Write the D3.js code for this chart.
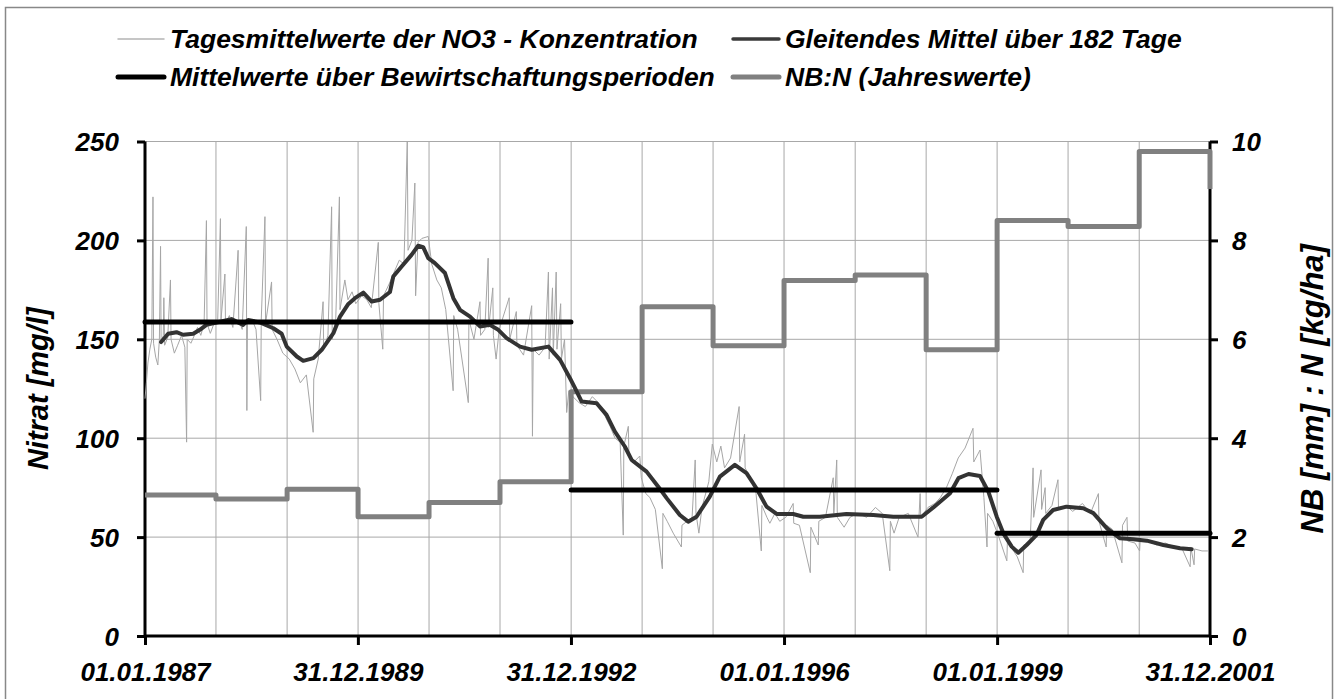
<!DOCTYPE html>
<html>
<head>
<meta charset="utf-8">
<script src="https://cdn.jsdelivr.net/npm/d3@7"></script>
<style>
  body { margin: 0; background: #fff; }
  text { font-family: "Liberation Sans", Arial, sans-serif; font-weight: bold; font-style: italic; fill: #000; }
</style>
</head>
<body>
<div id="chart"></div>
<script>
// ---- data ----
const xTickDates = ["1987-01-01", "1989-12-31", "1992-12-31", "1996-01-01", "1999-01-01", "2001-12-31"];
const xTickLabels = ["01.01.1987", "31.12.1989", "31.12.1992", "01.01.1996", "01.01.1999", "31.12.2001"];
const leftTicks = [0, 50, 100, 150, 200, 250];
const rightTicks = [0, 2, 4, 6, 8, 10];

// Tagesmittelwerte der NO3-Konzentration (mg/l)
const daily = [
  ["1987-01-01",120],["1987-01-08",128],["1987-01-16",138],["1987-01-26",145],["1987-02-05",150],["1987-02-11",222],
  ["1987-02-14",148],["1987-02-25",141],["1987-03-08",137],["1987-03-16",150],["1987-03-22",197],["1987-03-25",148],
  ["1987-04-05",152],["1987-04-08",171],["1987-04-12",147],["1987-04-28",151],["1987-05-12",180],["1987-05-15",150],
  ["1987-06-01",143],["1987-06-18",147],["1987-07-08",152],["1987-07-25",146],["1987-08-03",98],["1987-08-06",150],
  ["1987-08-25",148],["1987-09-12",152],["1987-09-28",156],["1987-10-15",152],["1987-11-01",158],["1987-11-13",210],
  ["1987-11-16",158],["1987-12-03",153],["1987-12-22",158],
  ["1988-01-10",160],["1988-01-24",211],["1988-01-27",160],["1988-02-16",183],["1988-02-19",158],["1988-03-10",162],
  ["1988-03-28",156],["1988-04-24",195],["1988-04-27",160],["1988-05-15",155],["1988-06-05",207],["1988-06-08",114],
  ["1988-06-11",158],["1988-07-05",160],["1988-07-25",155],["1988-08-18",119],["1988-08-21",160],["1988-09-09",212],
  ["1988-09-12",158],["1988-10-13",179],["1988-10-16",155],["1988-11-10",150],["1988-12-10",143],
  ["1989-01-12",140],["1989-02-10",135],["1989-03-10",128],["1989-04-10",132],["1989-05-15",103],["1989-05-18",130],
  ["1989-06-10",140],["1989-07-05",169],["1989-07-08",145],["1989-07-30",152],["1989-08-18",217],["1989-08-21",150],
  ["1989-09-08",160],["1989-09-27",222],["1989-09-30",165],["1989-10-25",180],["1989-11-10",170],["1989-12-01",174],
  ["1989-12-20",168],
  ["1990-01-20",172],["1990-02-15",170],["1990-03-10",166],["1990-04-15",199],["1990-04-18",168],["1990-05-08",145],
  ["1990-05-12",172],["1990-06-10",178],["1990-07-10",185],["1990-08-01",190],["1990-08-25",188],["1990-09-11",250],
  ["1990-09-15",195],["1990-10-05",200],["1990-10-20",229],["1990-10-24",172],["1990-11-05",199],["1990-11-25",201],
  ["1990-12-28",202],
  ["1991-01-15",188],["1991-02-10",180],["1991-03-05",176],["1991-03-28",165],["1991-05-05",124],["1991-05-08",162],
  ["1991-05-28",155],["1991-07-22",118],["1991-07-25",160],["1991-08-20",150],["1991-09-20",169],["1991-09-23",152],
  ["1991-10-15",155],["1991-11-01",191],["1991-11-04",156],["1991-11-25",176],["1991-11-28",152],["1991-12-12",140],
  ["1991-12-28",155],
  ["1992-02-17",171],["1992-02-20",150],["1992-03-25",164],["1992-03-28",147],["1992-05-01",142],["1992-06-12",167],
  ["1992-06-16",101],["1992-06-20",145],["1992-07-20",142],["1992-08-20",146],["1992-09-06",184],["1992-09-10",140],
  ["1992-09-27",176],["1992-10-01",142],["1992-10-16",184],["1992-10-20",145],["1992-11-08",168],["1992-11-12",140],
  ["1992-11-28",150],["1992-12-09",113],["1992-12-20",124],
  ["1993-01-10",121],["1993-02-10",118],["1993-03-15",116],["1993-04-20",121],["1993-05-20",118],["1993-06-20",112],
  ["1993-07-20",106],["1993-08-15",100],["1993-09-10",98],["1993-09-26",51],["1993-09-29",96],["1993-10-22",106],
  ["1993-10-25",92],["1993-11-20",88],["1993-12-20",91],["1993-12-28",80],
  ["1994-01-20",72],["1994-02-10",70],["1994-03-10",64],["1994-04-15",34],["1994-04-18",62],["1994-05-10",58],
  ["1994-06-10",52],["1994-07-22",45],["1994-07-25",56],["1994-08-20",58],["1994-09-15",60],["1994-10-01",89],
  ["1994-10-05",62],["1994-10-20",52],["1994-11-05",65],["1994-12-10",78],["1994-12-28",97],
  ["1995-01-20",88],["1995-02-10",96],["1995-03-01",85],["1995-04-01",90],["1995-05-15",116],["1995-05-18",88],
  ["1995-06-12",102],["1995-06-15",85],["1995-07-10",80],["1995-08-10",72],["1995-09-06",43],["1995-09-09",66],
  ["1995-10-05",60],["1995-10-20",57],["1995-11-15",62],["1995-12-10",58],
  ["1996-01-10",60],["1996-02-17",67],["1996-02-20",57],["1996-03-20",56],["1996-05-15",32],["1996-05-18",55],
  ["1996-06-25",46],["1996-06-28",58],["1996-08-01",60],["1996-09-10",80],["1996-09-13",62],["1996-09-28",89],
  ["1996-10-01",60],["1996-11-05",55],["1996-12-05",60],
  ["1997-01-15",62],["1997-03-01",60],["1997-04-15",65],["1997-05-20",62],["1997-06-28",33],["1997-07-01",58],
  ["1997-07-20",52],["1997-08-15",60],["1997-10-01",62],["1997-11-20",50],["1997-12-01",72],["1997-12-04",60],
  ["1998-01-10",65],["1998-02-15",67],["1998-03-15",70],["1998-04-15",75],["1998-05-15",82],["1998-06-15",90],
  ["1998-07-20",95],["1998-08-30",105],["1998-09-03",88],["1998-10-05",94],["1998-10-25",70],["1998-11-10",45],
  ["1998-11-13",62],["1998-12-10",58],
  ["1999-01-10",50],["1999-02-20",38],["1999-02-23",48],["1999-03-20",44],["1999-04-15",40],["1999-05-15",32],
  ["1999-05-18",46],["1999-06-20",48],["1999-07-05",85],["1999-07-08",60],["1999-08-15",84],["1999-08-18",64],
  ["1999-09-05",75],["1999-09-08",62],["1999-10-10",66],["1999-11-10",79],["1999-11-13",64],["1999-12-20",66],
  ["2000-01-25",63],["2000-03-15",67],["2000-04-25",62],["2000-06-05",72],["2000-06-08",58],["2000-07-15",45],
  ["2000-07-18",56],["2000-08-15",54],["2000-10-04",37],["2000-10-07",56],["2000-10-30",60],["2000-11-03",48],
  ["2000-12-10",47],
  ["2001-01-03",43],["2001-01-06",49],["2001-02-15",48],["2001-04-01",46],["2001-05-15",47],["2001-07-01",45],
  ["2001-08-10",44],["2001-09-20",35],["2001-09-23",45],["2001-10-10",36],["2001-10-13",44],["2001-11-20",43],
  ["2001-12-20",43]
];

// Gleitendes Mittel ueber 182 Tage (mg/l)
const movingAvg = [
  ["1987-03-25",148.6],["1987-04-30",152.8],["1987-06-12",153.6],["1987-07-16",152.3],["1987-09-06",152.8],
  ["1987-10-10",154.8],["1987-11-13",157.3],["1988-01-04",158.5],["1988-03-21",160.2],["1988-05-20",157.3],
  ["1988-06-15",159.8],["1988-08-14",158.5],["1988-10-22",155.6],["1988-12-04",152.8],["1988-12-30",146.3],
  ["1989-02-20",141.3],["1989-03-25",139.1],["1989-05-16",140.5],["1989-06-28",144.7],["1989-08-27",153.1],
  ["1989-09-30",161.5],["1989-11-12",167.9],["1989-12-16",170.8],["1990-01-28",173.6],["1990-03-12",169.1],
  ["1990-04-24",170.0],["1990-06-14",173.9],["1990-07-01",181.7],["1990-08-13",186.8],["1990-10-03",192.7],
  ["1990-11-06",197.3],["1990-12-02",196.6],["1990-12-28",191.0],["1991-01-31",188.5],["1991-03-24",183.5],
  ["1991-05-06",170.8],["1991-06-09",164.9],["1991-07-31",161.5],["1991-09-20",156.5],["1991-11-10",157.3],
  ["1991-12-23",154.8],["1992-02-04",150.6],["1992-04-13",146.3],["1992-06-12",144.7],["1992-09-06",146.3],
  ["1992-11-05",139.6],["1992-12-26",130.3],["1993-01-21",125.3],["1993-02-24",118.5],["1993-05-12",117.7],
  ["1993-07-02",111.8],["1993-08-14",103.3],["1993-10-04",95.8],["1993-11-08",89.0],["1994-01-24",83.1],
  ["1994-03-25",75.5],["1994-05-07",69.7],["1994-07-14",61.2],["1994-08-26",57.8],["1994-10-08",60.3],
  ["1994-12-15",70.5],["1995-02-05",80.6],["1995-04-23",86.5],["1995-06-22",82.3],["1995-08-12",74.7],
  ["1995-10-03",65.4],["1995-11-24",61.7],["1996-02-17",61.7],["1996-04-09",60.3],["1996-07-03",60.3],
  ["1996-11-17",61.7],["1997-04-04",61.2],["1997-07-16",60.3],["1997-12-09",60.3],["1998-02-07",65.0],
  ["1998-05-04",72.2],["1998-06-16",79.8],["1998-08-07",81.9],["1998-10-05",80.9],["1998-11-17",73.0],
  ["1998-12-30",60.3],["1999-02-02",51.9],["1999-03-17",45.2],["1999-04-20",42.1],["1999-06-02",46.0],
  ["1999-07-23",51.1],["1999-08-26",58.7],["1999-10-16",63.7],["1999-12-24",65.4],["2000-03-19",64.6],
  ["2000-05-10",62.1],["2000-07-18",54.5],["2000-09-24",49.4],["2000-12-01",48.9],["2001-02-09",48.2],
  ["2001-05-05",46.0],["2001-07-30",44.4],["2001-09-28",43.9]
];

// Mittelwerte ueber Bewirtschaftungsperioden
const periodStart = ["1987-01-01", "1993-01-01", "1999-01-01"];
const periodEnd = ["1992-12-31", "1998-12-31", "2001-12-31"];
const periodMean = [158.7, 73.8, 51.9];

// NB:N (Jahreswerte), last value closes the step at the right axis
const nbYears = ["1987-01-01","1988-01-01","1989-01-01","1990-01-01","1991-01-01","1992-01-01","1993-01-01","1994-01-01",
  "1995-01-01","1996-01-01","1997-01-01","1998-01-01","1999-01-01","2000-01-01","2001-01-01","2001-12-31"];
const nbValues = [2.85, 2.77, 2.97, 2.41, 2.70, 3.12, 4.94, 6.66, 5.87, 7.19, 7.30, 5.79, 8.40, 8.28, 9.80, 9.04];

const legendItems = [
  {name: "Tagesmittelwerte der NO3 - Konzentration", color: "#b4b4b4", w: 1.5, col: 0, row: 0},
  {name: "Gleitendes Mittel über 182 Tage", color: "#3a3a3a", w: 3.5, col: 1, row: 0},
  {name: "Mittelwerte über Bewirtschaftungsperioden", color: "#000", w: 5, col: 0, row: 1},
  {name: "NB:N (Jahreswerte)", color: "#808080", w: 5, col: 1, row: 1}
];

// ---- layout ----
const W = 1338, H = 699;
const margin = {top: 141.5, right: 128, bottom: 63, left: 145};
const width = W - margin.left - margin.right;
const height = H - margin.top - margin.bottom;
const parseDate = d3.timeParse("%Y-%m-%d");

const svg = d3.select("#chart").append("svg").attr("width", W).attr("height", H);

// chart frame
svg.append("rect").attr("x", 5.5).attr("y", 7.5).attr("width", 1327).attr("height", 700)
  .attr("fill", "#fff").attr("stroke", "#888").attr("stroke-width", 1.5);

const g = svg.append("g").attr("transform", `translate(${margin.left},${margin.top})`);

const x = d3.scaleTime().domain([parseDate("1987-01-01"), parseDate("2001-12-31")]).range([0, width]);
const yL = d3.scaleLinear().domain([0, 250]).range([height, 0]);
const yR = d3.scaleLinear().domain([0, 10]).range([height, 0]);

// gridlines
g.append("g").selectAll("line").data(d3.timeYear.range(parseDate("1988-01-01"), parseDate("2001-06-01")))
  .join("line")
  .attr("x1", (d) => x(d)).attr("x2", (d) => x(d)).attr("y1", 0).attr("y2", height)
  .attr("stroke", "#a8a8a8").attr("stroke-width", 1);
g.append("g").selectAll("line").data(leftTicks.slice(1))
  .join("line")
  .attr("x1", 0).attr("x2", width).attr("y1", (d) => yL(d)).attr("y2", (d) => yL(d))
  .attr("stroke", "#a8a8a8").attr("stroke-width", 1);

// axes
const axisLeft = g.append("g").call(d3.axisLeft(yL).tickValues(leftTicks).tickSize(8).tickPadding(18));
const axisRight = g.append("g").attr("transform", `translate(${width},0)`)
  .call(d3.axisRight(yR).tickValues(rightTicks).tickSize(8).tickPadding(14));
const xTickVals = xTickDates.map(parseDate);
const axisBottom = g.append("g").attr("transform", `translate(0,${height})`)
  .call(d3.axisBottom(x).tickValues(xTickVals).tickSize(9).tickPadding(18)
    .tickFormat((d, i) => xTickLabels[i]));

[axisLeft, axisRight, axisBottom].forEach((a) => {
  a.select(".domain").attr("stroke", "#000").attr("stroke-width", 3);
  a.selectAll(".tick line").attr("stroke", "#000").attr("stroke-width", 3);
  a.selectAll(".tick text").style("font-size", "26px").attr("fill", "#000");
});
axisLeft.select(".domain").attr("d", `M0,${height}V0`);
axisRight.select(".domain").attr("d", `M0,${height}V0`);
axisBottom.select(".domain").attr("d", `M0,0H${width}`);
axisLeft.selectAll(".tick text").attr("dy", "0.36em");
axisRight.selectAll(".tick text").attr("dy", "0.36em");

// series
const dailyLine = d3.line().x((d) => x(parseDate(d[0]))).y((d) => yL(d[1]));
g.append("path").datum(daily)
  .attr("fill", "none").attr("stroke", "#a6a6a6").attr("stroke-width", 1).attr("d", dailyLine);

const nbData = nbYears.map((d, i) => [d, nbValues[i]]);
const nbLine = d3.line().curve(d3.curveStepAfter).x((d) => x(parseDate(d[0]))).y((d) => yR(d[1]));
g.append("path").datum(nbData)
  .attr("fill", "none").attr("stroke", "#808080").attr("stroke-width", 5)
  .attr("stroke-linejoin", "round").attr("d", nbLine);

g.append("path").datum(movingAvg)
  .attr("fill", "none").attr("stroke", "#333").attr("stroke-width", 4)
  .attr("stroke-linejoin", "round").attr("stroke-linecap", "round").attr("d", dailyLine);

g.append("g").selectAll("line").data(periodMean)
  .join("line")
  .attr("x1", (d, i) => x(parseDate(periodStart[i])))
  .attr("x2", (d, i) => x(parseDate(periodEnd[i])))
  .attr("y1", (d) => yL(d)).attr("y2", (d) => yL(d))
  .attr("stroke", "#000").attr("stroke-width", 5).attr("stroke-linecap", "round");

// axis titles
svg.append("text")
  .attr("transform", `translate(48,${margin.top + height / 2}) rotate(-90)`)
  .attr("text-anchor", "middle").style("font-size", "29px")
  .text("Nitrat [mg/l]");
svg.append("text")
  .attr("transform", `translate(1323,${margin.top + height / 2}) rotate(-90)`)
  .attr("text-anchor", "middle").style("font-size", "31px")
  .text("NB [mm] : N [kg/ha]");

// legend
const legend = svg.append("g").attr("class", "legend");
const legendX = [118, 733];
const legendY = [39, 77];
legend.selectAll("g").data(legendItems).join("g")
  .attr("transform", (d) => `translate(${legendX[d.col]},${legendY[d.row]})`)
  .each(function (d) {
    d3.select(this).append("line")
      .attr("x1", 0).attr("x2", 46).attr("y1", 0).attr("y2", 0)
      .attr("stroke", d.color).attr("stroke-width", d.w).attr("stroke-linecap", "round");
    d3.select(this).append("text")
      .attr("x", 52).attr("y", 9)
      .style("font-size", "26.5px")
      .text(d.name);
  });
</script>
</body>
</html>
